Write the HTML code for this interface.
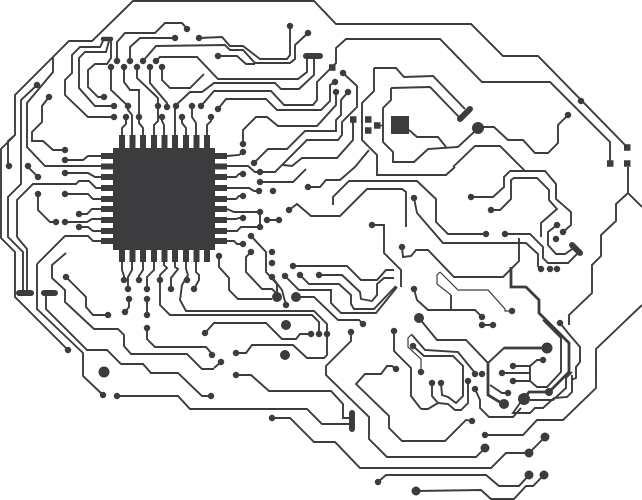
<!DOCTYPE html>
<html><head><meta charset="utf-8"><title>Circuit brain</title>
<style>html,body{margin:0;padding:0;background:#fff}svg{display:block}</style></head>
<body>
<svg width="642" height="500" viewBox="0 0 642 500" xmlns="http://www.w3.org/2000/svg">
<g fill="none" stroke="#3c3c3e" stroke-width="1.9" stroke-linejoin="miter">
<path d="M627 147 538 56 503 56 471 24 336 24 314 1 133 1 92 41 69 41 15 95 15 135 1 149 1 238 15 252 15 297 68 350
M15 135 8 141 8 166
M37 85 21 100 21 184 8 197 8 237 23 252 23 293
M53 58 53 72 27 103 27 147 45 166 101 166
M114 117 88 117 65 95 65 80 72 73 72 55 80 47 100 47 103 41
M114 106 95 106 79 88 79 58 85 52 106 52 109 41
M104 97 98 97 88 87 88 70 95 64 107 64 111 58 111 41
M17 237 17 200 33 184 76 184 79 181 89 181 96 188 101 188
M17 237 27 249 27 293
M28 167 38 177
M49 97 42 106 42 122 32 132 32 141 43 141 53 150 65 150
M65 160 83 160 88 156 101 156
M122 135 122 128 126 124 126 117
M132 135 132 115 128 110 128 106 111 90 111 67
M143 135 143 128 139 123 139 90 130 90 124 82 124 67
M154 135 154 125 158 121 158 98 137 78 137 67
M164 135 164 125 162 121 162 117
M175 135 175 106 190 92 202 92 214 83 275 83 281 89 299 89 314 75 314 56
M186 135 186 128 182 123 182 117
M196 135 196 123 192 117 192 106
M207 135 207 125 211 121 211 117
M201 106 214 91 271 91 284 105 313 105 317 100 317 82 332 67 336 63 336 48 346 39 440 39 482 82 550 82 610 142 610 163
M117 61 117 42 125 33 155 33 165 23 182 23 187 29
M130 61 130 47 140 38 175 38
M199 38 222 37 230 46 243 46 260 59 287 59 290 55 290 26
M143 61 156 46 225 45 230 50 243 50 255 63 290 63 295 59 295 45 308 33
M218 56 237 56 246 64 255 64
M156 61 160 57 197 57 218 79 298 79 307 72 307 56
M162 67 162 80 170 88 190 88 204 74
M150 67 150 83 167 103 167 107
M218 109 226 99 266 99 277 110 321 110 330 101 330 85 335 82
M336 92 336 105 317 126 278 126 267 117 256 117 243 130 243 144
M348 92 341 100 341 115 336 120 336 131 305 131 287 149 268 149 254 163
M343 73 357 86 357 107 342 122 342 135 338 140 307 140 275 172 260 172
M227 166 248 166 255 172 260 172
M283 165 292 166 302 158 337 158 353 140 353 119
M260 182 293 182 306 169
M308 187 320 187 326 180 340 180 355 167 369 150
M374 68 396 68 404 77 433 76 465 109
M374 68 374 91 362 103 362 140 377 155 377 175 446 175 455 167
M391 88 430 87 459 117
M391 88 391 100 383 108 383 142 393 152 393 162 414 162 428 149 458 147 473 133 478 128
M478 127 494 127 508 140 523 140 535 153 548 153 558 143 558 125 568 115
M409 130 417 137 438 137 446 147
M453 167 475 146 500 146 525 171
M510 171 545 171 556 184 556 199 571 212 571 225 563 232
M510 171 504 177 504 187 493 197 471 197
M491 210 500 210 511 199 511 180 514 178 537 178 549 190 549 200 557 209 541 223 541 237
M575 247 565 254 556 254 548 245 548 232 557 225
M579 252 568 263 548 263 543 258 543 247 530 234 505 234
M333 205 333 197 349 181 417 181 436 199 436 222 448 234 486 234
M414 198 417 213 443 243 526 243 538 254 538 266 541 269
M519 238 519 261 503 277 454 277 428 250 416 250 411 256 403 257 402 247
M628 167 628 193 616 204 616 221 601 235 601 256 592 265 592 293 569 315 569 325
M628 193 642 207
M642 305 596 349 596 388 563 420 537 420 523 435 485 435
M227 156 239 155 243 152
M227 177 236 177 239 174 243 174
M227 188 249 188 254 191 259 191
M227 199 236 199 239 196 243 196
M227 209 234 212 260 212 260 227 241 227 237 231 227 231
M227 219 236 219 239 218 243 218
M227 241 234 241 237 244 243 244
M267 220 279 220
M289 210 297 204 311 216 340 216 367 189 402 189 406 192 406 227
M251 236 266 252 266 272 277 284 277 297
M251 252 246 257 246 272 262 289 272 289 277 294
M219 256 219 267 229 278 229 290 238 299 272 299
M272 277 282 290 286 305
M285 276 299 290 331 290 331 303 341 313 376 313 397 287
M396 286 374 309 354 309 351 304 351 295 339 284 309 284 300 275
M293 266 347 266 361 280 377 280 386 270 394 270
M319 275 342 275 360 292 361 299 372 301 377 295 377 284 384 278 394 278
M401 287 401 270 384 253 384 225 372 225
M296 297 314 297 338 320 359 320 363 324
M414 289 417 300 428 310 475 310 482 317
M451 295 451 310
M482 325 493 325
M419 318 437 340 466 340 488 363 504 348 547 348
M513 366 530 366 537 360 543 360
M502 373 530 373
M513 381 530 381
M530 366 530 381 537 387 547 387 561 372 561 338 543 320
M560 323 568 333 580 347 580 362 576 367 576 378 571 380
M530 400 553 400 566 388 566 378 572 372
M572 375 572 392 567 397 554 398 543 408 535 408 530 413 513 413 520 403
M490 385 502 393 508 393
M475 389 480 400 480 408 489 417 513 417 521 408
M412 335 425 350 458 352 475 373
M413 346 424 356 453 356 463 366 463 396 456 403 448 397 442 395 441 383
M432 383 432 396 438 403 448 404 455 410 461 410 468 403 468 381
M421 409 428 409 438 403
M472 421 466 420 445 441 402 441 389 428 389 416 356 384 365 374 381 374 387 366 392 366 396 369
M485 448 476 457 387 457 369 439 369 417 326 375 326 366 351 341 351 332
M545 437 529 453 506 453 491 468 360 468 335 442 314 442 290 418 272 418
M529 475 519 486 499 486 486 475 386 475 378 482
M544 475 533 486 526 486 514 499 491 499 481 490 416 491
M421 409 411 396 411 368 394 351 394 331
M117 396 178 396 190 409 307 409 322 424 351 424
M236 375 251 375 269 391 331 391 343 404 343 418 351 418
M236 353 246 353 252 345 293 345 307 358 324 358 327 355 327 324 314 311 186 311 180 300 182 285 188 275 186 269 186 262
M319 334 319 322 312 315 170 315 160 305 160 275 167 268 164 265 164 262
M205 333 214 323 266 323 282 339 296 339 300 334 311 334
M214 368 221 362
M37 264 37 309 83 353 83 376 103 395
M46 293 46 309 87 350 107 350 121 364 143 364 151 373 178 373 202 396 211 396
M65 173 88 173 95 177 101 177
M65 194 88 194 93 199 101 199
M38 194 38 210 50 222 56 222
M79 214 87 214 92 209 101 209
M65 222 87 222 92 219 101 219
M79 227 88 227 93 231 101 231
M37 264 65 236 88 236 93 241 101 241
M66 253 52 265 52 278 65 290 65 302 94 329 118 329 124 335 124 346 131 354 187 354 202 369 214 369
M66 277 86 297 86 307 93 315 108 315
M122 262 122 270 124 276 124 280
M132 262 132 270 128 277 128 289
M143 262 143 270 139 276 139 280
M154 262 154 270 147 277 147 289
M175 262 175 267 178 269 171 278 171 289
M196 262 196 272 199 275 199 280 194 289
M129 299 129 307 125 312
M147 299 147 315
M147 328 147 339 155 347 206 347 212 354"/>
<path stroke-width="1.2" d="M440 272 458 290 488 290 505 309 505 311 512 311 M440 272 437 275 437 284 451 295 M412 334 408 338 408 347 421 359 421 372"/>
<path stroke-width="2.8" d="M511 267 511 287 526 287 539 300 539 313 569 343 569 372 549 392 529 392 524 399 M488 363 488 395 503 404 M504 348 547 348"/>
<path stroke-width="4.500" stroke-linecap="round" d="M103 39 111 39"/>
<path stroke-width="6" stroke-linecap="round" d="M306 56 320 56 M19 293 31 293 M44 293 55 293 M352 413 352 429 M572 245 580 253 M460 119 470 109"/>
<path stroke-width="6" d="M122 135V148M132.500 135V148M143 135V148M154 135V148M164.500 135V148M175 135V148M186 135V148M196.500 135V148M207 135V148
M122 250V262M132.500 250V262M143 250V262M154 250V262M164.500 250V262M175 250V262M186 250V262M196.500 250V262M207 250V262
M101 156H113M101 166.500H113M101 177H113M101 188H113M101 199H113M101 209H113M101 220H113M101 231H113M101 241H113
M215 156H227M215 166.500H227M215 177H227M215 188H227M215 199H227M215 209H227M215 220H227M215 231H227M215 241H227"/>
<path stroke-width="6.500" d="M365 119.500h6.500M365 130.500h6.500M374 125.500h6.500M350 119.500h6.500M329 67.500h6.500M624 147.500h6.500M624 163.500h6.500M607 163.500h6.500"/>
<path stroke-width="1.500" d="M380 125.500h4"/>
<path stroke-width="6.500" stroke-linecap="round" d="M187 29h0M175 38h0M199 38h0M117 61h0M130 61h0M143 61h0M156 61h0M111 67h0M124 67h0M137 67h0M150 67h0M162 67h0M37 85h0M49 97h0M104 97h0M114 106h0M128 106h0M158 106h0M167 107h0M176 106h0M192 106h0M201 106h0M114 117h0M126 117h0M139 117h0M162 117h0M182 117h0M211 117h0M65 150h0M65 160h0M9 166h0M28 166h0M65 173h0M38 177h0M65 194h0M38 194h0M79 214h0M56 222h0M65 222h0M79 227h0M66 277h0M108 315h0M124 280h0M139 280h0M160 280h0M187 280h0M128 289h0M147 289h0M171 289h0M194 289h0M129 299h0M147 299h0M125 312h0M147 315h0M147 328h0M205 333h0M212 355h0M221 362h0M236 353h0M236 375h0M68 350h0M103 395h0M117 396h0M211 396h0M272 418h0M290 26h0M308 33h0M218 56h0M343 73h0M335 82h0M336 92h0M348 92h0M218 109h0M243 144h0M243 152h0M254 163h0M260 172h0M243 174h0M260 182h0M308 187h0M259 191h0M273 191h0M243 196h0M289 210h0M260 212h0M243 218h0M267 220h0M279 220h0M260 227h0M251 236h0M243 244h0M251 252h0M272 252h0M219 256h0M272 263h0M293 266h0M300 275h0M319 275h0M272 277h0M285 276h0M286 305h0M311 334h0M319 334h0M327 334h0M351 332h0M363 324h0M372 225h0M414 198h0M402 247h0M414 289h0M394 331h0M413 346h0M421 372h0M396 369h0M378 482h0M471 197h0M491 210h0M486 234h0M505 234h0M563 232h0M557 225h0M556 239h0M541 269h0M550 269h0M557 269h0M568 115h0M581 101h0M482 317h0M482 325h0M493 325h0M512 311h0M560 323h0M475 374h0M482 374h0M432 383h0M441 383h0M468 381h0M475 389h0M513 366h0M502 373h0M513 381h0M543 360h0M508 393h0M472 421h0M485 435h0"/>
<path stroke-width="8" stroke-linecap="round" d="M549 392h0"/>
<path stroke-width="9" stroke-linecap="round" d="M485 448h0M545 437h0M529 453h0M529 475h0M544 475h0M416 491h0"/>
<path stroke-width="10" stroke-linecap="round" d="M277 297h0M296 297h0M286 325h0M285 355h0M419 318h0M504 404h0"/>
<path stroke-width="11" stroke-linecap="round" d="M104 372h0M547 348h0"/>
<path stroke-width="12" stroke-linecap="round" d="M478 128h0M524 399h0"/>
</g>
<g fill="#3c3c3e">
<rect x="113" y="148" width="102" height="102"/>
<rect x="391" y="116" width="18" height="18"/>
</g>
</svg>
</body></html>
